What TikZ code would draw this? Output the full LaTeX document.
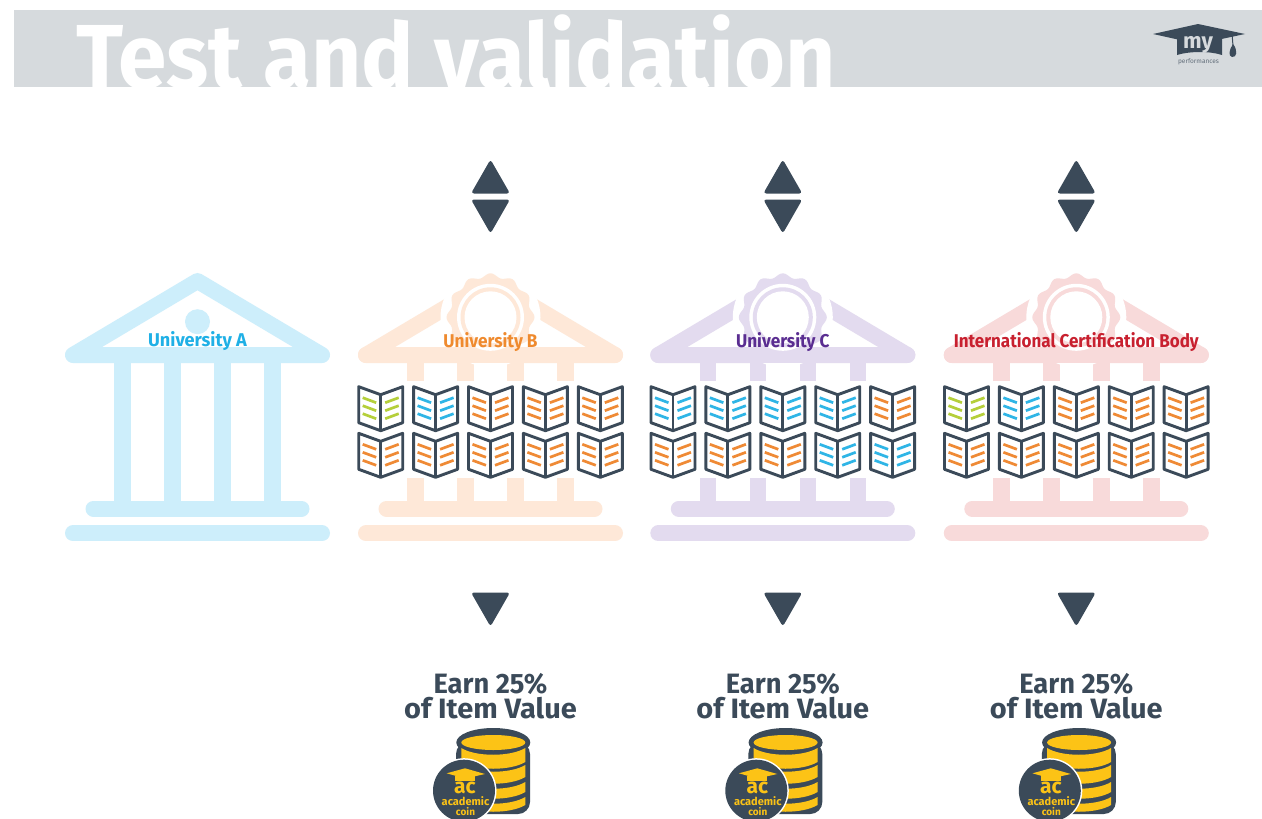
\documentclass[tikz,border=0pt]{standalone}
\usepackage{fontspec}
\setmainfont{Fira Sans}
\definecolor{hdr}{HTML}{D6DADD}
\definecolor{dk}{HTML}{3B4A59}
\definecolor{bor}{HTML}{EF8A35}
\definecolor{bbl}{HTML}{2FB5E6}
\definecolor{bgr}{HTML}{B5CF3A}
\definecolor{gold}{HTML}{FCC316}
\definecolor{paleA}{HTML}{CDEEFB}
\definecolor{paleB}{HTML}{FEE8D8}
\definecolor{paleC}{HTML}{E3DBEF}
\definecolor{paleD}{HTML}{F8DADA}
\definecolor{txtA}{HTML}{1FB0E6}
\definecolor{txtB}{HTML}{EF8A2E}
\definecolor{txtC}{HTML}{5A2D91}
\definecolor{txtD}{HTML}{C8202F}
\newcommand{\fsz}[1]{\fontsize{#1}{#1}\selectfont}
\tikzset{
  x=1pt,y=-1pt,
  templebar/.style={line width=16pt,line cap=round,line join=round},
  unilabel/.style={font=\fsz{18.5}\bfseries,inner sep=0pt},
  earnlabel/.style={font=\fontsize{28}{25}\selectfont\bfseries,text=dk,align=center,inner sep=0pt},
  bookline/.style={line width=2.7pt},
  tri/.style={fill=dk,rounded corners=3pt},
}
\newcommand{\columnset}[1]{
  \foreach \cxx in {-75,-25,25,75}{\fill[#1] (\cxx-8.3,363) rectangle (\cxx+8.3,501);}
  \draw[#1,templebar] (-104,508.7) -- (104,508.7);
  \draw[#1,templebar] (-124.5,533.3) -- (124.5,533.3);
}
\newcommand{\roofshape}[1]{\draw[#1,templebar] (-124.5,355) -- (0,281) -- (124.5,355) -- cycle;}
\newcommand{\sealshape}[1]{
  \fill[white] (0,317.3) circle[radius=50pt];
  \draw[#1,templebar] (-124.5,355) -- (124.5,355);
  \fill[#1] plot[domain=0:360,samples=121,smooth] ({(42+2*cos(12*\x))*cos(\x)},{317.3+(42+2*cos(12*\x))*sin(\x)}) -- cycle;
  \fill[white] (0,317.3) circle[radius=33.5pt];
  \fill[#1] (0,317.3) circle[radius=30pt];
  \fill[white] (0,317.3) circle[radius=26pt];
  \fill[white] (-135,381) rectangle (135,478);
}
\newcommand{\bookicon}[3]{
  \begin{scope}[shift={(#1,#2)}]
    \draw[white,line width=9pt,line join=round,fill=white] (-22,0) -- (0,8) -- (22,0) -- (22,36) -- (0,44) -- (-22,36) -- cycle;
    \foreach \yy in {11,19,27}{
      \draw[#3,bookline] (-18,\yy) -- (-4.5,\yy+5);
      \draw[#3,bookline] (18,\yy) -- (4.5,\yy+5);
    }
    \draw[dk,line width=2.9pt,line join=round] (-22,0) -- (0,8) -- (22,0) -- (22,36) -- (0,44) -- (-22,36) -- cycle;
    \draw[dk,line width=2.9pt] (0,8) -- (0,44);
  \end{scope}
}
\newcommand{\earnblock}[1]{
  \fill[tri] (0,159.5) -- (19.5,193.5) -- (-19.5,193.5) -- cycle;
  \fill[tri] (0,233.5) -- (19.5,199.5) -- (-19.5,199.5) -- cycle;
  \fill[tri] (0,626.5) -- (19.5,592.5) -- (-19.5,592.5) -- cycle;
  \node[earnlabel] (#1earn) at (0,696.5) {\scalebox{0.975}[1]{Earn 25\%}\\\scalebox{1.035}[1]{of Item Value}};
  \fill[dk,rounded corners=12pt] (-34.5,742) -- (-34.5,814) -- (39.5,814) -- (39.5,742) -- cycle;
  \fill[dk] (2.8,742.5) ellipse[x radius=37pt,y radius=14.5pt];
  \fill[gold] (2.8,742.5) ellipse[x radius=32pt,y radius=7.5pt];
  \foreach \ya/\yb in {748/762,765/777,782/792,797/805}{
    \fill[gold] (-29.2,\ya) .. controls (-15,\ya+9) and (20,\ya+9) .. (34.8,\ya) -- (34.8,\yb) .. controls (20,\yb+9) and (-15,\yb+9) .. (-29.2,\yb) -- cycle;
  }
  \fill[white] (-26.5,790.7) circle[radius=32.5pt];
  \fill[dk] (-26.5,790.7) circle[radius=31pt];
  \fill[gold] (-43.8,773.3) -- (-25.5,768.3) -- (-5.5,774) -- (-25.5,778.5) -- cycle;
  \fill[gold] (-35.5,776) -- (-15.5,776) -- (-15.5,781) -- (-35.5,781) -- cycle;
  \node[font=\fsz{21}\bfseries,text=gold,inner sep=0pt] (#1ac) at (-25.5,788) {ac};
  \node[font=\fsz{11}\bfseries,text=gold,inner sep=0pt] (#1acad) at (-25,801) {academic};
  \node[font=\fsz{10}\bfseries,text=gold,inner sep=0pt] (#1coin) at (-25,811.5) {coin};
}
\begin{document}
\begin{tikzpicture}
\useasboundingbox (0,0) rectangle (1262,819);
\clip (0,0) rectangle (1262,819);
\fill[white] (0,0) rectangle (1262,819);
\fill[hdr] (14,10) rectangle (1262,87);
\begin{scope}
  \clip (14,10) rectangle (1262,87);
  \node[anchor=base west,inner sep=0pt,text=white,font=\fsz{91}\bfseries] (title) at (76,88) {\scalebox{0.96}[1]{Test and validation}};
\end{scope}
\fill[dk] (1153,34) -- (1198,24) -- (1245,34) -- (1198,44) -- cycle;
\fill[dk] (1177,36) -- (1222,36) -- (1222,55) .. controls (1210,51) and (1190,51) .. (1177,55) -- cycle;
\draw[dk,line width=1pt] (1232,33) -- (1233,46);
\fill[dk] (1233,44) .. controls (1238,50) and (1237,58) .. (1232,57) .. controls (1228,56) and (1229,50) .. (1233,44) -- cycle;
\node[font=\fsz{22}\bfseries,text=hdr,inner sep=0pt] (mylogo) at (1198,45) {my};
\node[font=\fsz{6.5},text=dk!80,inner sep=0pt] (perf) at (1198.5,61.5) {performances};
\begin{scope}[shift={(197.5,0)}]
  \columnset{paleA}
  \roofshape{paleA}
  \fill[paleA] (0,321.7) circle[radius=12.5pt];
  \node[unilabel,text=txtA] (ua) at (0,341.5) {\scalebox{0.98}[1]{University A}};
\end{scope}
\begin{scope}[shift={(490.5,0)}]
  \columnset{paleB}\roofshape{paleB}\sealshape{paleB}
\end{scope}
\foreach \n/\c in {0/bgr,1/bbl,2/bor,3/bor,4/bor}{\bookicon{380.7+54.9*\n}{386.7}{\c}}
\foreach \n/\c in {0/bor,1/bor,2/bor,3/bor,4/bor}{\bookicon{380.7+54.9*\n}{433.3}{\c}}
\node[unilabel,text=txtB] (ub) at (490.5,342.5) {\scalebox{0.93}[1]{University B}};
\begin{scope}[shift={(490.5,0)}]\earnblock{b}\end{scope}
\begin{scope}[shift={(782.8,0)}]
  \columnset{paleC}\roofshape{paleC}\sealshape{paleC}
\end{scope}
\foreach \n/\c in {0/bbl,1/bbl,2/bbl,3/bbl,4/bor}{\bookicon{673+54.9*\n}{386.7}{\c}}
\foreach \n/\c in {0/bor,1/bor,2/bor,3/bbl,4/bbl}{\bookicon{673+54.9*\n}{433.3}{\c}}
\node[unilabel,text=txtC] (uc) at (782.8,342.5) {\scalebox{0.93}[1]{University C}};
\begin{scope}[shift={(782.8,0)}]\earnblock{c}\end{scope}
\begin{scope}[shift={(1076.3,0)}]
  \columnset{paleD}\roofshape{paleD}\sealshape{paleD}
\end{scope}
\foreach \n/\c in {0/bgr,1/bbl,2/bor,3/bor,4/bor}{\bookicon{966.5+54.9*\n}{386.7}{\c}}
\foreach \n/\c in {0/bor,1/bor,2/bor,3/bor,4/bor}{\bookicon{966.5+54.9*\n}{433.3}{\c}}
\node[unilabel,text=txtD] (ud) at (1076.3,342.5) {\scalebox{0.92}[1]{International Certification Body}};
\begin{scope}[shift={(1076.3,0)}]\earnblock{d}\end{scope}
\end{tikzpicture}
\end{document}
